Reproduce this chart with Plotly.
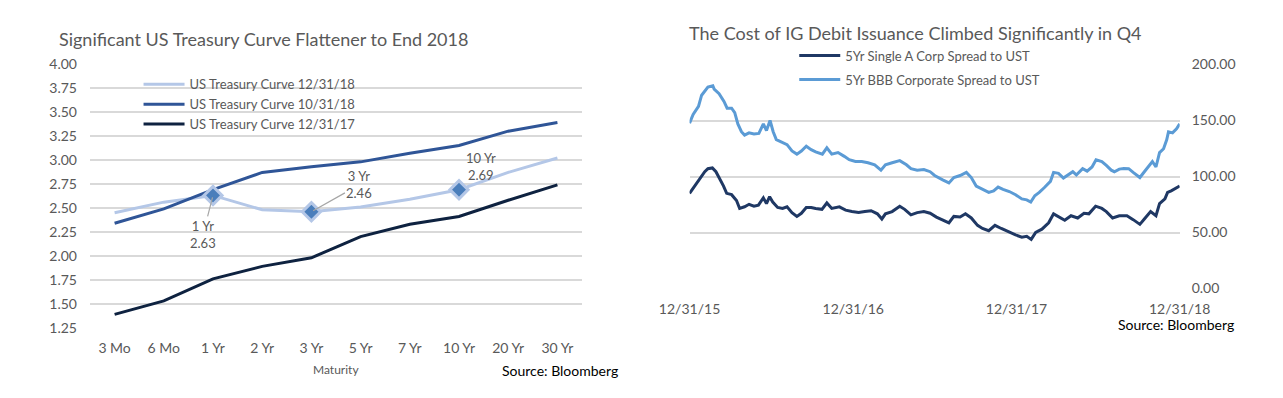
import plotly.graph_objects as go

# ---------------- Left chart data ----------------
maturities = ["3 Mo", "6 Mo", "1 Yr", "2 Yr", "3 Yr", "5 Yr", "7 Yr", "10 Yr", "20 Yr", "30 Yr"]
ust_2018_12_31 = [2.45, 2.56, 2.63, 2.48, 2.46, 2.51, 2.59, 2.69, 2.87, 3.02]
ust_2018_10_31 = [2.34, 2.49, 2.69, 2.87, 2.93, 2.98, 3.07, 3.15, 3.30, 3.39]
ust_2017_12_31 = [1.39, 1.53, 1.76, 1.89, 1.98, 2.20, 2.33, 2.41, 2.58, 2.74]
highlighted = ["1 Yr", "3 Yr", "10 Yr"]
left_yticks = [1.25, 1.50, 1.75, 2.00, 2.25, 2.50, 2.75, 3.00, 3.25, 3.50, 3.75, 4.00]

# ---------------- Right chart data ----------------
bbb_dates = ["2015-12-31", "2016-01-08", "2016-01-20", "2016-01-27", "2016-02-10", "2016-02-21",
             "2016-02-24", "2016-03-06", "2016-03-17", "2016-03-24", "2016-04-03", "2016-04-10",
             "2016-04-17", "2016-04-25", "2016-05-02", "2016-05-12", "2016-05-23", "2016-06-03",
             "2016-06-13", "2016-06-20", "2016-06-28", "2016-07-05", "2016-07-12", "2016-07-26",
             "2016-08-05", "2016-08-16", "2016-08-27", "2016-09-06", "2016-09-17", "2016-09-28",
             "2016-10-08", "2016-10-23", "2016-11-02", "2016-11-13", "2016-11-27", "2016-12-11",
             "2016-12-22", "2017-01-05", "2017-01-19", "2017-02-02", "2017-02-17", "2017-03-03",
             "2017-03-13", "2017-03-28", "2017-04-14", "2017-04-29", "2017-05-09", "2017-05-23",
             "2017-06-07", "2017-06-21", "2017-07-01", "2017-07-19", "2017-08-02", "2017-08-13",
             "2017-08-27", "2017-09-10", "2017-09-21", "2017-10-02", "2017-10-16", "2017-10-30",
             "2017-11-10", "2017-11-20", "2017-12-01", "2017-12-15", "2017-12-29", "2018-01-12",
             "2018-01-23", "2018-02-01", "2018-02-10", "2018-02-20", "2018-03-03", "2018-03-17",
             "2018-03-24", "2018-04-04", "2018-04-15", "2018-04-25", "2018-05-06", "2018-05-14",
             "2018-05-28", "2018-06-07", "2018-06-18", "2018-06-27", "2018-07-10", "2018-07-20",
             "2018-07-31", "2018-08-07", "2018-08-18", "2018-08-28", "2018-09-08", "2018-09-18",
             "2018-10-03", "2018-10-13", "2018-10-24", "2018-10-31", "2018-11-08", "2018-11-16",
             "2018-11-25", "2018-12-02", "2018-12-06", "2018-12-15", "2018-12-24", "2018-12-31"]
bbb_spread = [147.6, 155.5, 162.7, 172.6, 179.8, 181.0,
              178.0, 174.0, 167.0, 161.0, 161.0, 157.0,
              147.0, 140.0, 137.0, 139.0, 138.0, 138.5,
              147.0, 141.0, 150.0, 140.0, 133.0, 130.0,
              128.5, 122.8, 120.0, 122.8, 127.0, 124.0,
              122.0, 120.0, 125.6, 120.0, 121.4, 118.0,
              115.0, 113.4, 113.4, 112.3, 110.5, 105.7,
              110.5, 112.3, 114.2, 110.5, 107.0, 105.7,
              106.3, 104.3, 100.9, 97.0, 94.3, 99.1,
              100.9, 103.7, 99.1, 91.5, 88.6, 85.8,
              87.2, 90.6, 88.6, 86.6, 83.8, 80.0,
              79.2, 77.2, 82.9, 85.8, 90.0, 95.7,
              103.7, 102.8, 98.6, 101.4, 104.3, 101.4,
              107.0, 104.8, 108.5, 115.0, 113.4, 110.0,
              105.7, 104.3, 106.6, 107.1, 107.0, 103.7,
              99.1, 104.3, 110.0, 113.4, 108.5, 121.4,
              124.8, 132.8, 139.9, 139.0, 142.7, 147.0]

single_a_dates = ["2015-12-31", "2016-01-12", "2016-01-23", "2016-02-03", "2016-02-10", "2016-02-20",
                  "2016-02-28", "2016-03-09", "2016-03-16", "2016-03-23", "2016-04-03", "2016-04-14",
                  "2016-04-21", "2016-05-02", "2016-05-12", "2016-05-23", "2016-06-02", "2016-06-13",
                  "2016-06-20", "2016-06-27", "2016-07-04", "2016-07-15", "2016-07-26", "2016-08-05",
                  "2016-08-16", "2016-08-27", "2016-09-06", "2016-09-17", "2016-09-28", "2016-10-08",
                  "2016-10-22", "2016-11-02", "2016-11-13", "2016-11-30", "2016-12-14", "2016-12-28",
                  "2017-01-12", "2017-01-26", "2017-02-09", "2017-02-23", "2017-03-05", "2017-03-13",
                  "2017-03-28", "2017-04-14", "2017-04-25", "2017-05-09", "2017-05-23", "2017-06-07",
                  "2017-06-21", "2017-07-05", "2017-07-19", "2017-08-02", "2017-08-13", "2017-08-27",
                  "2017-09-08", "2017-09-21", "2017-10-05", "2017-10-16", "2017-10-30", "2017-11-13",
                  "2017-11-27", "2017-12-15", "2017-12-29", "2018-01-12", "2018-01-23", "2018-02-02",
                  "2018-02-12", "2018-02-26", "2018-03-13", "2018-03-24", "2018-04-04", "2018-04-18",
                  "2018-05-02", "2018-05-17", "2018-05-31", "2018-06-11", "2018-06-26", "2018-07-10",
                  "2018-07-20", "2018-08-03", "2018-08-18", "2018-09-04", "2018-09-18", "2018-10-03",
                  "2018-10-13", "2018-10-27", "2018-11-08", "2018-11-16", "2018-11-28", "2018-12-04",
                  "2018-12-12", "2018-12-23", "2018-12-31"]
single_a_spread = [84.9, 91.5, 98.6, 104.3, 107.0, 107.7,
                   104.3, 97.0, 91.5, 85.0, 83.8, 78.6,
                   71.5, 73.0, 75.2, 73.5, 74.4, 81.0,
                   75.8, 82.0, 77.2, 72.4, 71.5, 73.0,
                   67.8, 64.4, 67.2, 72.4, 72.4, 71.5,
                   70.7, 76.4, 71.5, 72.9, 70.0, 68.7,
                   67.8, 68.7, 69.5, 66.7, 62.1, 66.7,
                   68.7, 73.5, 70.7, 65.8, 67.8, 68.7,
                   67.2, 63.8, 61.0, 58.7, 64.4, 63.8,
                   66.7, 63.0, 56.4, 53.6, 51.6, 56.4,
                   53.6, 50.1, 47.9, 45.9, 46.7, 43.9,
                   50.1, 53.0, 58.7, 66.7, 64.4, 61.0,
                   65.0, 63.0, 67.2, 66.7, 73.5, 71.5,
                   68.7, 63.0, 65.0, 65.0, 61.5, 57.3,
                   62.1, 68.7, 65.0, 75.8, 80.0, 85.8,
                   87.2, 90.0, 91.5]
right_xticks = ["2015-12-31", "2016-12-31", "2017-12-31", "2018-12-31"]
right_yticks = [0, 50, 100, 150, 200]

# ---------------- Figure ----------------
W, H = 1283, 398
FONT = "Lato, 'Open Sans', sans-serif"
GREY = "#595959"
GRID = "#D9D9D9"


def fx(px):
    return px / W


def fy(px):
    return 1 - px / H


LIGHT = "#B4C7E7"
MID = "#2F5597"
DARK = "#0E2240"
BBB_C = "#5B9BD5"
A_C = "#1F3864"

fig = go.Figure()

fig.add_trace(go.Scatter(x=maturities, y=ust_2018_12_31, mode="lines", name="US Treasury Curve 12/31/18",
                         line=dict(color=LIGHT, width=3), xaxis="x", yaxis="y", legend="legend",
                         legendgroup="a"))
fig.add_trace(go.Scatter(x=maturities, y=ust_2018_10_31, mode="lines", name="US Treasury Curve 10/31/18",
                         line=dict(color=MID, width=3), xaxis="x", yaxis="y", legend="legend",
                         legendgroup="b"))
fig.add_trace(go.Scatter(x=maturities, y=ust_2017_12_31, mode="lines", name="US Treasury Curve 12/31/17",
                         line=dict(color=DARK, width=3), xaxis="x", yaxis="y", legend="legend",
                         legendgroup="c"))

hl_vals = [ust_2018_12_31[maturities.index(m)] for m in highlighted]
fig.add_trace(go.Scatter(x=highlighted, y=hl_vals, mode="markers", showlegend=False,
                         marker=dict(symbol="diamond", size=14, color="#4A7EBB",
                                     line=dict(color=LIGHT, width=3)),
                         xaxis="x", yaxis="y"))

fig.add_trace(go.Scatter(x=single_a_dates, y=single_a_spread, mode="lines",
                         name="5Yr Single A Corp Spread to UST", line=dict(color=A_C, width=3),
                         xaxis="x2", yaxis="y2", legend="legend2", legendgroup="d"))
fig.add_trace(go.Scatter(x=bbb_dates, y=bbb_spread, mode="lines",
                         name="5Yr BBB Corporate Spread to UST", line=dict(color=BBB_C, width=3),
                         xaxis="x2", yaxis="y2", legend="legend2", legendgroup="e"))

# Data labels for highlighted points
label_offsets = {"1 Yr": (-10, 39, True), "3 Yr": (48, -27, True), "10 Yr": (22, -23, False)}
annotations = []
for m, v in zip(highlighted, hl_vals):
    ax, ay, arrow = label_offsets[m]
    a = dict(x=m, y=v, xref="x", yref="y", text=f"{m}<br>{v:.2f}",
             font=dict(family=FONT, size=13, color=GREY), align="center")
    if arrow:
        a.update(showarrow=True, ax=ax, ay=ay, arrowhead=0, arrowwidth=1.2, arrowcolor="#A6A6A6",
                 standoff=2)
    else:
        a.update(showarrow=False, xshift=ax, yshift=-ay)
    annotations.append(a)

annotations += [
    dict(x=fx(27), y=fy(31), xref="paper", yref="paper", xanchor="left", yanchor="middle",
         text="Significant US Treasury Curve Flattener to End 2018", showarrow=False,
         font=dict(family=FONT, size=18, color=GREY)),
    dict(x=fx(689), y=fy(25), xref="paper", yref="paper", xanchor="left", yanchor="middle",
         text="The Cost of IG Debit Issuance Climbed Significantly in Q4", showarrow=False,
         font=dict(family=FONT, size=18, color=GREY)),
    dict(x=fx(320.5), y=fy(377), xref="paper", yref="paper", xanchor="center", yanchor="middle",
         text="Maturity", showarrow=False, font=dict(family=FONT, size=12, color=GREY)),
    dict(x=fx(619), y=fy(378), xref="paper", yref="paper", xanchor="right", yanchor="middle",
         text="Source: Bloomberg", showarrow=False, font=dict(family=FONT, size=14, color="#000000")),
    dict(x=fx(1266), y=fy(330), xref="paper", yref="paper", xanchor="right", yanchor="middle",
         text="Source: Bloomberg", showarrow=False, font=dict(family=FONT, size=14, color="#000000")),
]

tickfont = dict(family=FONT, size=14, color=GREY)

fig.update_layout(
    width=W, height=H,
    margin=dict(l=0, r=0, t=0, b=0),
    paper_bgcolor="white", plot_bgcolor="white",
    font=dict(family=FONT, color=GREY),
    annotations=annotations,
    hovermode=False,
    xaxis=dict(domain=[fx(62), fx(579)], type="category", range=[-0.5, 9.5], anchor="y",
               showgrid=False, showline=False, zeroline=False, ticks="", tickfont=tickfont,
               ticklabelstandoff=10),
    yaxis=dict(domain=[fy(333), fy(57.5)], range=[1.25, 4.0], tickvals=left_yticks, tickformat=".2f",
               anchor="x", gridcolor=GRID, gridwidth=2, zeroline=False, showline=False, ticks="",
               tickfont=tickfont, ticklabelstandoff=12),
    xaxis2=dict(domain=[fx(692), fx(1207)], type="date", range=["2015-12-31", "2018-12-31"],
                tickvals=right_xticks, tickformat="%m/%d/%y", anchor="y2", showgrid=False,
                showline=False, zeroline=False, ticks="", tickfont=tickfont, ticklabelstandoff=10),
    yaxis2=dict(domain=[fy(292), fy(58)], range=[0, 200], tickvals=right_yticks, tickformat=".2f",
                anchor="x2", side="right", gridcolor=GRID, gridwidth=2, zeroline=False,
                showline=False, ticks="", tickfont=tickfont, ticklabelstandoff=11),
    legend=dict(x=fx(113), y=fy(63), xanchor="left", yanchor="top", bgcolor="rgba(0,0,0,0)",
                font=dict(family=FONT, size=13, color=GREY), tracegroupgap=0, itemwidth=41),
    legend2=dict(x=fx(802), y=fy(33), xanchor="left", yanchor="top", bgcolor="rgba(0,0,0,0)",
                 font=dict(family=FONT, size=13, color=GREY), tracegroupgap=4, itemwidth=41),
)

fig.write_html("out.html", config={"displayModeBar": False, "staticPlot": True},
               post_script="document.body.style.margin='0px';")
